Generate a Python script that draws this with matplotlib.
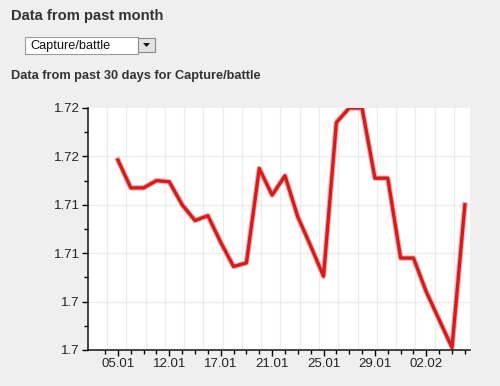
import numpy as np
import matplotlib.pyplot as plt
from matplotlib.patches import Rectangle, Polygon

plt.rcParams['font.family'] = ['Liberation Sans', 'DejaVu Sans']

# daily values, one per category position
values = [1.7157, 1.7134, 1.7134, 1.7140, 1.7139, 1.7120, 1.7107, 1.7111,
          1.7089, 1.7069, 1.7072, 1.7150, 1.7128, 1.7144, 1.7110, 1.7086,
          1.7061, 1.7188, 1.7200, 1.7200, 1.7142, 1.7142, 1.7076, 1.7076,
          1.7048, 1.7025, 1.7002, 1.7120]
tick_pos = [0, 4, 8, 12, 16, 20, 24]
tick_labels = ['05.01', '12.01', '17.01', '21.01', '25.01', '29.01', '02.02']
y_ticks = [1.700, 1.704, 1.708, 1.712, 1.716, 1.720]
y_labels = ['1.7', '1.7', '1.71', '1.71', '1.72', '1.72']

W, H = 500, 386
fig = plt.figure(figsize=(5, 3.86), dpi=100)
fig.patch.set_facecolor('#efefef')

# header texts and dropdown
fig.text(11/W, 1 - 16/H, 'Data from past month', fontsize=10.6, fontweight='bold',
         color='#333333', va='center', ha='left')
fig.patches.append(Rectangle((25/W, 1 - 54/H), 113/W, 17/H, transform=fig.transFigure,
                             facecolor='white', edgecolor='#9a9a9a', lw=0.8))
fig.patches.append(Rectangle((138/W, 1 - 52/H), 17/W, 14/H, transform=fig.transFigure,
                             facecolor='#e2e2e2', edgecolor='#8a8a8a', lw=0.8))
fig.patches.append(Polygon([[143/W, 1 - 43/H], [150/W, 1 - 43/H], [146.5/W, 1 - 47/H]],
                           closed=True, transform=fig.transFigure, facecolor='#111111'))
fig.text(30/W, 1 - 45.5/H, 'Capture/battle', fontsize=9.2, color='#111111',
         va='center', ha='left')
fig.text(11/W, 1 - 76/H, 'Data from past 30 days for Capture/battle', fontsize=9.2,
         fontweight='bold', color='#333333', va='center', ha='left')

ax = fig.add_axes([88/W, 36/H, 382/W, 242/H])
ax.set_facecolor('white')
x = np.arange(len(values))
ax.plot(x, values, color='#f0b0b0', lw=4.0, solid_joinstyle='round', zorder=2)
ax.plot(x, values, color='#d41c1c', lw=2.4, solid_joinstyle='round', zorder=3)

ax.set_xlim(-2.33, 27.4)
ax.set_ylim(1.700, 1.720)
ax.set_xticks(tick_pos)
ax.set_xticklabels(tick_labels)
ax.set_xticks(np.arange(-1, 28), minor=True)
ax.set_yticks(y_ticks)
ax.set_yticklabels(y_labels)
ax.set_yticks(np.arange(1.702, 1.720, 0.004), minor=True)

# light grid
for gx in np.arange(-0.85, 27.4, 1.5):
    ax.axvline(gx, color='#ebebeb', lw=0.9, zorder=1)
for gy in y_ticks[1:-1]:
    ax.axhline(gy, color='#ebebeb', lw=0.9, zorder=1)

for s in ['top', 'right']:
    ax.spines[s].set_visible(False)
for s in ['left', 'bottom']:
    ax.spines[s].set_linewidth(1.1)
    ax.spines[s].set_color('#111111')
ax.tick_params(axis='both', which='major', length=4, width=1, direction='out',
               labelsize=9.5, labelcolor='#222222', pad=2)
ax.tick_params(axis='both', which='minor', length=3, width=1, direction='out')

fig.savefig('out.png', dpi=100, facecolor=fig.get_facecolor())
